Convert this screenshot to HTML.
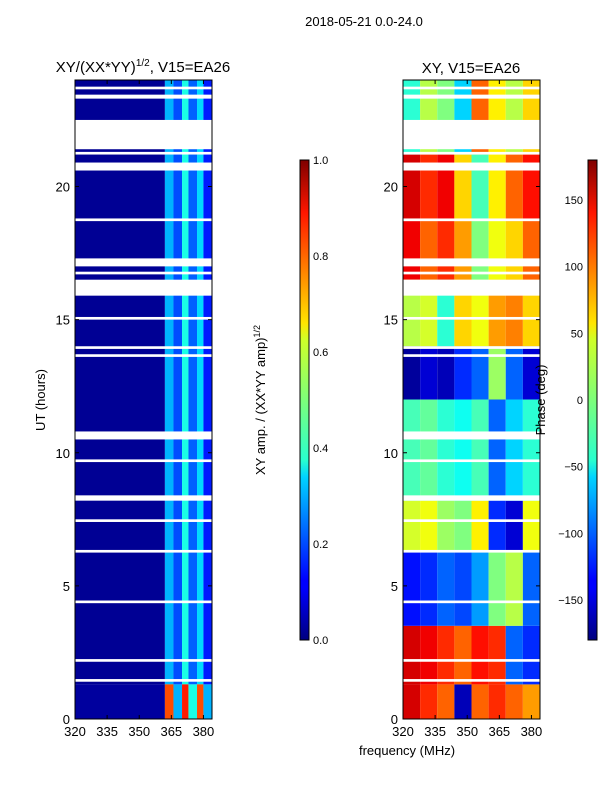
<!DOCTYPE html>
<html><head><meta charset="utf-8"><style>
body{margin:0;background:#fff;font-family:"Liberation Sans",sans-serif}
svg text{font-family:"Liberation Sans",sans-serif;fill:#000}
</style></head><body>
<svg id="c" width="600" height="800" xmlns="http://www.w3.org/2000/svg">
<defs>
<linearGradient id="jet" x1="0" y1="1" x2="0" y2="0">
<stop offset="0" stop-color="#00007f"/><stop offset="0.11" stop-color="#0000ff"/><stop offset="0.125" stop-color="#0000ff"/><stop offset="0.34" stop-color="#00d4ff"/><stop offset="0.375" stop-color="#29ffce"/><stop offset="0.5" stop-color="#7dff7a"/><stop offset="0.625" stop-color="#ceff29"/><stop offset="0.66" stop-color="#ffe500"/><stop offset="0.89" stop-color="#ff1600"/><stop offset="1" stop-color="#7f0000"/>
</linearGradient>
</defs>
<text x="364" y="26" font-size="13" text-anchor="middle">2018-05-21 0.0-24.0</text>
<text x="143" y="72" font-size="15" text-anchor="middle">XY/(XX*YY)<tspan font-size="10" dy="-6">1/2</tspan><tspan dy="6">, V15=EA26</tspan></text>
<text x="471" y="73" font-size="15" text-anchor="middle">XY, V15=EA26</text>
<g id="left"></g>
<g id="right"></g>
<g id="axes"></g>
<text transform="translate(45,400) rotate(-90)" font-size="13" text-anchor="middle">UT (hours)</text>
<text transform="translate(265,400) rotate(-90)" font-size="13" text-anchor="middle">XY amp. / (XX*YY amp)<tspan font-size="9" dy="-5">1/2</tspan></text>
<text transform="translate(545,400) rotate(-90)" font-size="13" text-anchor="middle">Phase (deg)</text>
<text x="407" y="755" font-size="13" text-anchor="middle">frequency (MHz)</text>
<rect x="300" y="160" width="9" height="480" fill="url(#jet)" stroke="#000"/>
<rect x="588" y="160" width="9" height="480" fill="url(#jet)" stroke="#000"/>
</svg>
<script>
const ampBinEdges=[320,362,366,370,373,377,380,384];
const ampProfile=[0.02,0.3,0.2,0.4,0.22,0.34,0.15];
const ampLowBand=[0.03,0.8,0.3,0.85,0.4,0.8,0.3];
const gaps=[[23.65,23.75],[23.3,23.45],[21.4,22.5],[21.2,21.3],[20.6,20.9],[18.7,18.8],[17.0,17.3],[16.7,16.8],[15.9,16.5],[15.0,15.1],[13.9,14.0],[13.6,13.7],[10.5,10.8],[9.65,9.75],[8.2,8.4],[7.4,7.5],[6.25,6.35],[4.35,4.45],[2.15,2.25],[1.4,1.5]];
const phaseTimeEdges=[0,1.3,3.5,6.3,8.2,12,14,16.5,18.7,21.2,24];
const phaseFreqEdges=[320,328,336,344,352,360,368,376,384];
const phaseGrid=[
[150,120,100,-160,100,120,100,80],
[150,140,120,100,130,120,-100,-120],
[-130,-120,-100,-110,-80,0,20,-100],
[30,40,10,0,50,-120,-150,40],
[-20,-10,-30,-40,-20,-100,-60,-30],
[-170,-150,-160,-120,-100,10,-100,-150],
[20,30,-30,60,40,80,90,60],
[140,100,120,80,0,40,60,100],
[150,120,140,60,-20,50,100,130],
[-30,20,0,-60,100,50,20,60]];
const ampTicks=[0,0.2,0.4,0.6,0.8,1.0];
const phaseTicks=[-150,-100,-50,0,50,100,150];
const xTicks=[320,335,350,365,380];
const yTicks=[0,5,10,15,20];
const NS="http://www.w3.org/2000/svg";
function jet(v){v=Math.max(0,Math.min(1,v));
 const c=x=>Math.round(255*Math.max(0,Math.min(1,x)));
 return `rgb(${c(1.5-Math.abs(4*v-3))},${c(1.5-Math.abs(4*v-2))},${c(1.5-Math.abs(4*v-1))})`;}
const yS=h=>719-h*639/24;
const xL=f=>75+(f-320)*137/64;
const xR=f=>403+(f-320)*137/64;
function rect(g,x,y,w,h,fill,name){const r=document.createElementNS(NS,'rect');
 r.setAttribute('x',x);r.setAttribute('y',y);r.setAttribute('width',w);r.setAttribute('height',h);r.setAttribute('fill',fill);
 
 
 g.appendChild(r);return r;}
function text(g,x,y,s,anchor,name){const t=document.createElementNS(NS,'text');
 t.setAttribute('x',x);t.setAttribute('y',y);t.setAttribute('font-size','13');t.setAttribute('text-anchor',anchor);t.textContent=s;
 
 
 g.appendChild(t);}
function line(g,x1,y1,x2,y2,name){const l=document.createElementNS(NS,'line');
 l.setAttribute('x1',x1);l.setAttribute('y1',y1);l.setAttribute('x2',x2);l.setAttribute('y2',y2);l.setAttribute('stroke','#000');
 
 
 g.appendChild(l);}
const L=document.getElementById('left'),R=document.getElementById('right'),A=document.getElementById('axes');
for(let i=0;i<ampProfile.length;i++){
 const x0=xL(ampBinEdges[i]),x1=xL(ampBinEdges[i+1]);
 rect(L,x0,yS(24),x1-x0,yS(1.3)-yS(24),jet(ampProfile[i]),'amp-cell');
 rect(L,x0,yS(1.3),x1-x0,yS(0)-yS(1.3),jet(ampLowBand[i]),'amp-cell');
}
for(let t=0;t<phaseGrid.length;t++)for(let f=0;f<phaseGrid[t].length;f++){
 const x0=xR(phaseFreqEdges[f]),x1=xR(phaseFreqEdges[f+1]),y0=yS(phaseTimeEdges[t+1]),y1=yS(phaseTimeEdges[t]);
 rect(R,x0,y0,x1-x0,y1-y0,jet((phaseGrid[t][f]+180)/360),'phase-cell');
}
gaps.forEach(g=>{
 rect(L,75,yS(g[1]),137,yS(g[0])-yS(g[1]),'#fff','flagged-row');
 rect(R,403,yS(g[1]),137,yS(g[0])-yS(g[1]),'#fff','flagged-row');
});
[75,403].forEach((x0,k)=>{
 const r=rect(A,x0,80,137,639,'none',k?'right-plot-frame':'left-plot-frame');r.setAttribute('stroke','#000');
 const xs=k?xR:xL;
 xTicks.forEach(v=>{line(A,xs(v),719,xs(v),715,'x-tick');line(A,xs(v),80,xs(v),84,'x-tick');text(A,xs(v),736,String(v),'middle','x-tick-label');});
 yTicks.forEach(v=>{line(A,x0,yS(v),x0+4,yS(v),'y-tick');line(A,x0+137,yS(v),x0+133,yS(v),'y-tick');text(A,x0-5,yS(v)+5,String(v),'end','y-tick-label');});
});
ampTicks.forEach(v=>{const y=640-v*480;line(A,305,y,309,y,'amp-colorbar-tick');text(A,313,y+4,v.toFixed(1),'start','amp-colorbar-label');A.lastChild.setAttribute('font-size','11');});
phaseTicks.forEach(v=>{const y=640-(v+180)/360*480;line(A,593,y,597,y,'phase-colorbar-tick');text(A,583,y+4,v<0?'\u2212'+(-v):String(v),'end','phase-colorbar-label');A.lastChild.setAttribute('font-size','11');});
</script>
</body></html>
